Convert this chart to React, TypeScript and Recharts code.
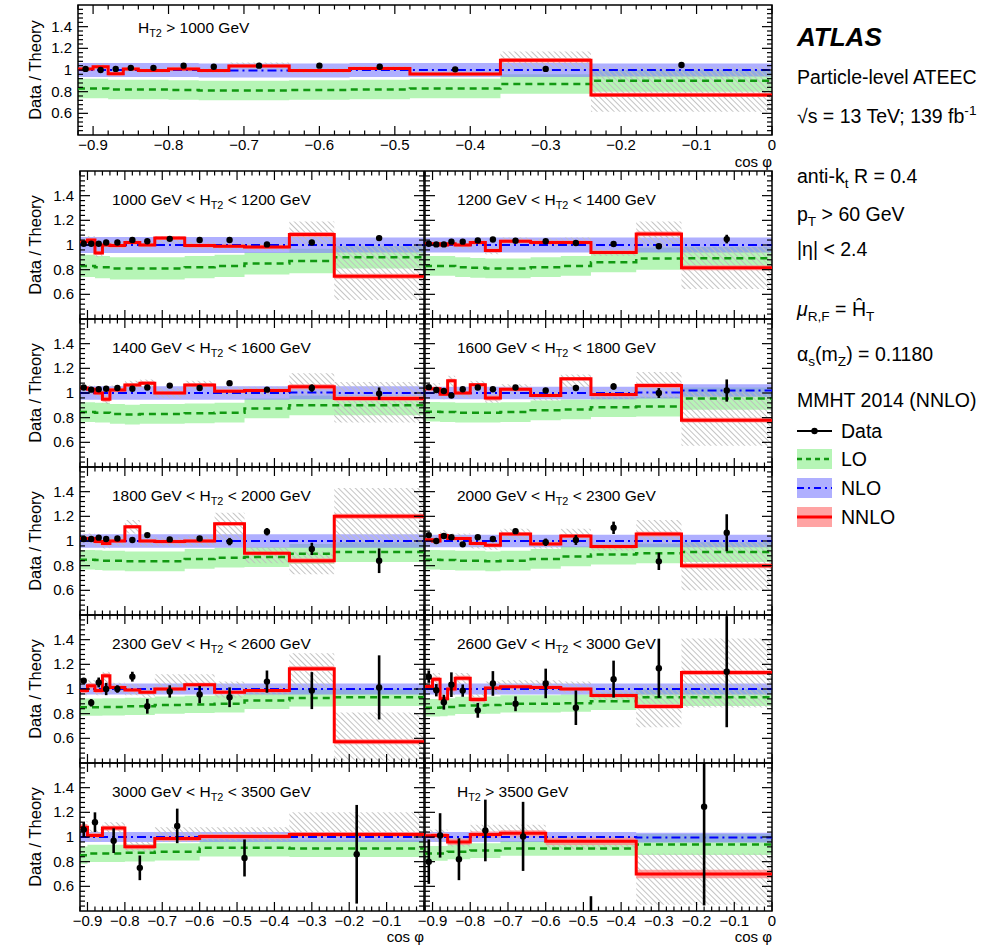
import React from 'react';
import { ComposedChart, Area, Line, Scatter, ErrorBar, XAxis, YAxis, ReferenceArea } from 'recharts';

const FONT = '"Liberation Sans", Arial, Helvetica, sans-serif';

// cos(phi) binning: fine bins for the inclusive and low/medium H_T2 slices, coarse for the two highest
const edgesFine = [-0.92, -0.9, -0.88, -0.86, -0.84, -0.8, -0.76, -0.72, -0.64, -0.56, -0.48, -0.36, -0.24, 0];
const centersFine = [-0.91, -0.89, -0.87, -0.85, -0.82, -0.78, -0.74, -0.68, -0.6, -0.52, -0.42, -0.3, -0.12];
const edgesCoarse = [-0.92, -0.9, -0.86, -0.8, -0.72, -0.6, -0.36, 0];
const centersCoarse = [-0.91, -0.88, -0.83, -0.76, -0.66, -0.48, -0.18];

// H_T2 slices in GeV; panel 0 is the inclusive H_T2 > 1000 GeV ratio, 0 = no upper edge
const htLow = [1000, 1000, 1200, 1400, 1600, 1800, 2000, 2300, 2600, 3000, 3500];
const htHigh = [0, 1200, 1400, 1600, 1800, 2000, 2300, 2600, 3000, 3500, 0];

// axis labels
const xMajorTicks = [-0.9, -0.8, -0.7, -0.6, -0.5, -0.4, -0.3, -0.2, -0.1, 0];
const yMajorTicks = [0.6, 0.8, 1, 1.2, 1.4];

// data / NNLO prediction
const dataRatio = [
  [1.01, 1.0, 1.01, 1.02, 1.02, 1.04, 1.03, 1.04, 1.04, 1.03, 1.006, 1.01, 1.046],
  [1.01, 1.01, 1.01, 1.02, 1.02, 1.04, 1.03, 1.05, 1.04, 1.04, 1.005, 1.02, 1.056],
  [1.01, 1.005, 1.005, 1.027, 1.027, 1.037, 1.045, 1.035, 1.03, 1.016, 1.008, 0.99, 1.048],
  [1.045, 1.027, 1.03, 1.035, 1.04, 1.035, 1.045, 1.06, 1.04, 1.08, 1.027, 1.04, 0.995],
  [1.048, 1.024, 1.016, 0.98, 1.03, 1.045, 1.03, 1.045, 1.02, 1.04, 1.053, 1.0, 1.02],
  [1.016, 1.016, 1.027, 1.016, 1.02, 1.008, 1.048, 1.013, 1.02, 0.995, 1.075, 0.936, 0.84],
  [1.048, 1.0, 1.04, 1.03, 0.973, 1.03, 1.016, 1.08, 0.99, 1.008, 1.107, 0.835, 1.067],
  [1.067, 0.888, 1.053, 1.0, 1.0, 1.1, 0.86, 0.98, 0.955, 0.933, 1.06, 0.987, 1.013],
  [1.1, 0.99, 0.893, 1.035, 0.987, 0.827, 1.045, 0.88, 1.045, 0.848, 1.08, 1.168, 1.14],
  [1.06, 1.12, 0.97, 0.75, 1.09, 0.83, 0.86],
  [0.8, 1.013, 0.82, 1.053, 1.005, 0.25, 1.245],
];
const dataErr = [
  [0.005, 0.005, 0.005, 0.005, 0.005, 0.005, 0.005, 0.005, 0.005, 0.005, 0.006, 0.007, 0.01],
  [0.005, 0.005, 0.005, 0.005, 0.005, 0.005, 0.006, 0.006, 0.006, 0.007, 0.008, 0.012, 0.02],
  [0.005, 0.005, 0.005, 0.005, 0.005, 0.006, 0.006, 0.006, 0.007, 0.008, 0.01, 0.02, 0.035],
  [0.006, 0.006, 0.006, 0.006, 0.006, 0.007, 0.007, 0.008, 0.01, 0.012, 0.015, 0.03, 0.05],
  [0.007, 0.007, 0.007, 0.008, 0.008, 0.01, 0.01, 0.01, 0.012, 0.016, 0.025, 0.04, 0.09],
  [0.008, 0.008, 0.008, 0.01, 0.01, 0.012, 0.015, 0.012, 0.015, 0.03, 0.03, 0.05, 0.1],
  [0.01, 0.01, 0.012, 0.015, 0.012, 0.015, 0.02, 0.02, 0.03, 0.04, 0.05, 0.07, 0.15],
  [0.02, 0.03, 0.04, 0.05, 0.03, 0.04, 0.06, 0.05, 0.07, 0.08, 0.09, 0.15, 0.26],
  [0.05, 0.05, 0.06, 0.1, 0.05, 0.06, 0.1, 0.06, 0.12, 0.14, 0.15, 0.24, 0.45],
  [0.06, 0.08, 0.1, 0.1, 0.14, 0.15, 0.4],
  [0.18, 0.18, 0.17, 0.25, 0.28, 0.27, 0.8],
];

// predictions / NNLO
const nnloRatio = [
  [1.01, 1.03, 0.965, 1.01, 0.995, 1.01, 0.995, 1.037, 0.995, 1.015, 0.963, 1.09, 0.77],
  [1.027, 1.04, 0.936, 1.0, 0.995, 1.02, 1.0, 1.056, 0.995, 0.99, 0.984, 1.085, 0.747],
  [1.01, 1.01, 1.0, 1.01, 1.0, 1.02, 0.955, 1.03, 1.02, 1.02, 0.94, 1.09, 0.816],
  [1.04, 1.03, 1.0, 0.95, 1.025, 1.065, 1.08, 1.0, 1.065, 1.015, 1.02, 1.05, 0.955],
  [1.035, 1.035, 0.99, 1.1, 1.0, 1.067, 0.96, 1.03, 0.98, 1.115, 0.987, 1.06, 0.78],
  [1.02, 1.02, 0.995, 0.98, 1.0, 1.115, 1.0, 0.995, 1.0, 1.14, 0.9, 0.84, 1.2],
  [1.01, 1.0, 1.045, 1.02, 1.02, 0.98, 0.965, 1.056, 0.976, 1.04, 0.955, 1.056, 0.8],
  [0.987, 1.027, 0.987, 1.107, 1.013, 0.992, 0.973, 1.0, 1.035, 0.973, 0.987, 1.165, 0.573],
  [1.02, 1.08, 0.92, 1.0, 1.088, 0.915, 1.008, 1.019, 1.013, 1.0, 0.947, 0.859, 1.133],
  [1.08, 1.013, 1.072, 0.92, 0.987, 1.005, 1.021],
  [1.01, 1.013, 0.96, 1.02, 1.03, 0.965, 0.7],
];
const nnloUnc = [
  [0.015, 0.015, 0.015, 0.015, 0.015, 0.015, 0.015, 0.015, 0.015, 0.015, 0.015, 0.02, 0.02],
  [0.015, 0.015, 0.015, 0.015, 0.015, 0.015, 0.015, 0.015, 0.015, 0.015, 0.015, 0.02, 0.02],
  [0.015, 0.015, 0.015, 0.015, 0.015, 0.015, 0.015, 0.015, 0.015, 0.015, 0.015, 0.02, 0.02],
  [0.015, 0.015, 0.015, 0.02, 0.015, 0.015, 0.015, 0.015, 0.015, 0.015, 0.015, 0.02, 0.02],
  [0.015, 0.015, 0.015, 0.015, 0.015, 0.015, 0.02, 0.015, 0.015, 0.015, 0.015, 0.02, 0.02],
  [0.015, 0.015, 0.015, 0.015, 0.015, 0.015, 0.015, 0.015, 0.015, 0.015, 0.015, 0.02, 0.02],
  [0.015, 0.015, 0.015, 0.015, 0.015, 0.015, 0.015, 0.015, 0.015, 0.015, 0.015, 0.02, 0.02],
  [0.02, 0.02, 0.02, 0.02, 0.015, 0.015, 0.015, 0.015, 0.015, 0.015, 0.015, 0.02, 0.02],
  [0.02, 0.02, 0.02, 0.02, 0.02, 0.02, 0.015, 0.015, 0.015, 0.015, 0.015, 0.02, 0.02],
  [0.025, 0.02, 0.02, 0.02, 0.02, 0.02, 0.02],
  [0.02, 0.02, 0.025, 0.025, 0.025, 0.03, 0.035],
];
const nloRatio = [
  [1.0, 1.0, 1.0, 1.0, 1.0, 1.0, 0.995, 0.995, 0.995, 1.0, 1.0, 1.0, 1.0],
  [1.0, 1.0, 1.0, 1.0, 1.0, 1.0, 1.0, 1.0, 1.0, 1.0, 1.0, 1.0, 1.0],
  [1.0, 1.0, 1.0, 1.0, 1.0, 1.0, 1.0, 1.0, 1.0, 1.0, 1.0, 1.0, 1.0],
  [1.0, 1.0, 1.0, 1.0, 1.0, 1.0, 1.0, 1.0, 1.0, 1.0, 1.0, 1.005, 1.0],
  [1.0, 1.0, 1.0, 1.0, 1.0, 1.0, 1.0, 1.0, 1.0, 1.0, 1.0, 1.005, 1.02],
  [1.0, 1.0, 1.0, 1.0, 1.0, 1.0, 1.0, 1.0, 1.0, 1.0, 1.0, 1.0, 1.0],
  [1.0, 1.0, 1.0, 1.0, 1.0, 1.0, 1.0, 1.0, 1.0, 1.0, 1.0, 1.0, 1.0],
  [1.0, 1.0, 1.0, 1.0, 1.0, 1.0, 1.0, 1.0, 1.0, 1.0, 1.0, 1.0, 1.0],
  [1.0, 1.0, 1.0, 1.0, 1.0, 1.0, 1.0, 1.0, 1.0, 1.0, 1.0, 1.0, 1.0],
  [1.0, 1.0, 1.0, 1.0, 1.0, 1.0, 1.0],
  [1.0, 1.0, 1.0, 1.0, 1.0, 1.0, 0.995],
];
const nloUnc = [
  [0.065, 0.065, 0.065, 0.065, 0.065, 0.065, 0.065, 0.065, 0.065, 0.065, 0.065, 0.065, 0.06],
  [0.065, 0.065, 0.065, 0.065, 0.065, 0.065, 0.065, 0.065, 0.065, 0.065, 0.065, 0.065, 0.06],
  [0.06, 0.06, 0.06, 0.06, 0.06, 0.06, 0.06, 0.06, 0.06, 0.06, 0.06, 0.06, 0.06],
  [0.055, 0.055, 0.055, 0.055, 0.055, 0.055, 0.055, 0.055, 0.055, 0.055, 0.055, 0.055, 0.055],
  [0.05, 0.05, 0.05, 0.05, 0.05, 0.05, 0.05, 0.05, 0.05, 0.05, 0.05, 0.05, 0.05],
  [0.055, 0.055, 0.055, 0.055, 0.055, 0.055, 0.055, 0.055, 0.055, 0.055, 0.055, 0.055, 0.055],
  [0.05, 0.05, 0.05, 0.05, 0.05, 0.05, 0.05, 0.05, 0.05, 0.05, 0.05, 0.05, 0.05],
  [0.045, 0.045, 0.045, 0.045, 0.045, 0.045, 0.045, 0.045, 0.045, 0.045, 0.045, 0.045, 0.045],
  [0.045, 0.045, 0.045, 0.045, 0.045, 0.045, 0.045, 0.045, 0.045, 0.045, 0.045, 0.045, 0.045],
  [0.04, 0.04, 0.04, 0.04, 0.04, 0.04, 0.04],
  [0.04, 0.04, 0.04, 0.04, 0.04, 0.04, 0.04],
];
const loRatio = [
  [0.83, 0.83, 0.82, 0.82, 0.82, 0.815, 0.81, 0.81, 0.815, 0.82, 0.83, 0.87, 0.9],
  [0.83, 0.83, 0.82, 0.82, 0.81, 0.81, 0.81, 0.81, 0.82, 0.83, 0.85, 0.87, 0.9],
  [0.83, 0.83, 0.83, 0.83, 0.82, 0.815, 0.81, 0.81, 0.82, 0.83, 0.86, 0.89, 0.893],
  [0.845, 0.845, 0.84, 0.84, 0.83, 0.825, 0.83, 0.83, 0.835, 0.84, 0.875, 0.9, 0.9],
  [0.848, 0.848, 0.845, 0.845, 0.84, 0.84, 0.84, 0.845, 0.86, 0.867, 0.885, 0.89, 0.955],
  [0.848, 0.848, 0.845, 0.84, 0.84, 0.835, 0.835, 0.835, 0.855, 0.865, 0.87, 0.896, 0.91],
  [0.848, 0.848, 0.845, 0.845, 0.84, 0.84, 0.835, 0.84, 0.855, 0.875, 0.89, 0.9, 0.91],
  [0.853, 0.853, 0.853, 0.855, 0.855, 0.86, 0.86, 0.87, 0.875, 0.88, 0.907, 0.928, 0.933],
  [0.848, 0.848, 0.85, 0.855, 0.867, 0.867, 0.87, 0.88, 0.88, 0.885, 0.9, 0.933, 0.933],
  [0.853, 0.867, 0.867, 0.872, 0.88, 0.912, 0.907],
  [0.867, 0.867, 0.88, 0.89, 0.907, 0.907, 0.94],
];
const loUnc = [
  [0.09, 0.09, 0.09, 0.09, 0.09, 0.09, 0.09, 0.09, 0.09, 0.09, 0.09, 0.09, 0.1],
  [0.09, 0.09, 0.09, 0.09, 0.09, 0.09, 0.09, 0.09, 0.09, 0.09, 0.09, 0.1, 0.09],
  [0.08, 0.08, 0.08, 0.08, 0.08, 0.08, 0.08, 0.08, 0.08, 0.08, 0.08, 0.09, 0.09],
  [0.08, 0.08, 0.08, 0.08, 0.08, 0.08, 0.08, 0.08, 0.08, 0.08, 0.08, 0.08, 0.08],
  [0.08, 0.08, 0.08, 0.08, 0.08, 0.08, 0.08, 0.08, 0.08, 0.08, 0.08, 0.08, 0.09],
  [0.08, 0.08, 0.08, 0.08, 0.08, 0.08, 0.08, 0.08, 0.08, 0.08, 0.08, 0.08, 0.08],
  [0.08, 0.08, 0.08, 0.08, 0.08, 0.08, 0.08, 0.08, 0.08, 0.08, 0.08, 0.08, 0.08],
  [0.07, 0.07, 0.07, 0.07, 0.07, 0.07, 0.07, 0.07, 0.07, 0.07, 0.07, 0.07, 0.07],
  [0.07, 0.07, 0.07, 0.07, 0.07, 0.07, 0.07, 0.07, 0.07, 0.07, 0.07, 0.07, 0.07],
  [0.07, 0.07, 0.07, 0.07, 0.07, 0.07, 0.07],
  [0.06, 0.06, 0.06, 0.06, 0.06, 0.06, 0.085],
];
// hatched band around the NNLO prediction
const hatchLow = [
  [0.985, 1.0, 0.94, 0.985, 0.97, 0.985, 0.97, 1.0, 0.97, 0.99, 0.94, 0.985, 0.615],
  [0.99, 1.0, 0.9, 0.97, 0.965, 0.99, 0.97, 1.0, 0.965, 0.96, 0.955, 0.99, 0.555],
  [0.98, 0.98, 0.97, 0.98, 0.97, 0.99, 0.925, 1.0, 0.99, 0.99, 0.91, 0.98, 0.643],
  [1.0, 0.99, 0.96, 0.91, 0.99, 1.02, 1.04, 0.96, 1.03, 0.98, 0.98, 0.98, 0.76],
  [0.99, 0.99, 0.95, 1.05, 0.96, 1.02, 0.92, 0.99, 0.94, 1.03, 0.95, 0.96, 0.573],
  [0.98, 0.98, 0.96, 0.94, 0.96, 1.06, 0.96, 0.96, 0.96, 1.0, 0.82, 0.73, 0.98],
  [0.97, 0.96, 1.0, 0.98, 0.98, 0.94, 0.93, 1.0, 0.94, 0.98, 0.92, 0.98, 0.6],
  [0.95, 0.99, 0.95, 1.05, 0.97, 0.95, 0.93, 0.97, 0.99, 0.93, 0.95, 1.0, 0.42],
  [0.97, 1.03, 0.87, 0.95, 1.04, 0.87, 0.96, 0.98, 0.98, 0.97, 0.91, 0.69, 0.85],
  [1.03, 0.97, 1.03, 0.88, 0.96, 0.97, 0.98],
  [0.96, 0.96, 0.92, 0.98, 0.98, 0.9, 0.45],
];
const hatchHigh = [
  [1.035, 1.06, 0.99, 1.035, 1.02, 1.035, 1.02, 1.07, 1.02, 1.04, 0.99, 1.17, 1.03],
  [1.06, 1.07, 0.97, 1.03, 1.025, 1.05, 1.03, 1.07, 1.025, 1.02, 1.015, 1.19, 1.0],
  [1.04, 1.04, 1.03, 1.04, 1.03, 1.05, 0.985, 1.06, 1.05, 1.06, 0.97, 1.19, 0.99],
  [1.07, 1.06, 1.03, 0.98, 1.06, 1.1, 1.11, 1.04, 1.1, 1.05, 1.05, 1.16, 1.09],
  [1.08, 1.08, 1.03, 1.14, 1.04, 1.1, 1.0, 1.07, 1.02, 1.15, 1.03, 1.17, 1.01],
  [1.06, 1.06, 1.03, 1.02, 1.04, 1.17, 1.04, 1.03, 1.04, 1.23, 0.95, 0.915, 1.43],
  [1.05, 1.04, 1.09, 1.06, 1.06, 1.02, 1.0, 1.1, 1.01, 1.1, 0.99, 1.17, 0.995],
  [1.03, 1.07, 1.03, 1.14, 1.05, 1.04, 1.02, 1.12, 1.12, 1.06, 1.03, 1.29, 0.81],
  [1.07, 1.13, 0.97, 1.05, 1.13, 0.96, 1.06, 1.07, 1.07, 1.06, 1.02, 1.03, 1.41],
  [1.13, 1.06, 1.12, 0.96, 1.08, 1.08, 1.2],
  [1.06, 1.06, 1.0, 1.1, 1.1, 1.0, 0.867],
];

const LO_FILL = '#b6f5b6';
const NLO_FILL = '#7a7aff';
const NNLO_FILL = '#ff8c8c';

// all tick positions: minor every 0.02 in cos(phi), every 0.04 in ratio
const xTicks = Array.from({ length: 47 }, (_, k) => (k - 46) / 50);
const yTicks = Array.from({ length: 29 }, (_, k) => (k + 11) / 25);
const isMajorX = (v: number) => xMajorTicks.some((t) => Math.abs(t - v) < 1e-6);
const isMajorY = (v: number) => yMajorTicks.some((t) => Math.abs(t - v) < 1e-6);
const fmtX = (v: number) => (Math.abs(v) < 1e-6 ? '0' : '\u2212' + Math.abs(v).toFixed(1));
const fmtY = (v: number) => (Math.abs(v - 1) < 1e-6 ? '1' : v.toFixed(1));

const sub: React.CSSProperties = { fontSize: '0.7em', verticalAlign: '-0.35em' };
const sup: React.CSSProperties = { fontSize: '0.7em', verticalAlign: '0.6em' };

// bottom tick + its mirror on the top edge of the frame
const XTick = (props: any) => {
  const { x, y, payload, plotH, showLabel, showZero } = props;
  const v = payload.value;
  const major = isMajorX(v);
  const len = major ? 9 : 4.5;
  const label = showLabel && major && (showZero || v < -1e-6);
  return (
    <g>
      <line x1={x} x2={x} y1={y} y2={y - len} stroke="#000" strokeWidth={1.2} />
      <line x1={x} x2={x} y1={y - plotH} y2={y - plotH + len} stroke="#000" strokeWidth={1.2} />
      {label && (
        <text x={x} y={y + 15} textAnchor="middle" fontSize={15} fontFamily={FONT} fill="#000">
          {fmtX(v)}
        </text>
      )}
    </g>
  );
};

// left tick + its mirror on the right edge of the frame
const YTick = (props: any) => {
  const { x, y, payload, plotW, showLabel } = props;
  const v = payload.value;
  const major = isMajorY(v);
  const len = major ? 10 : 5;
  return (
    <g>
      <line x1={x} x2={x + len} y1={y} y2={y} stroke="#000" strokeWidth={1.2} />
      <line x1={x + plotW} x2={x + plotW - len} y1={y} y2={y} stroke="#000" strokeWidth={1.2} />
      {showLabel && major && (
        <text x={x - 6} y={y + 5} textAnchor="end" fontSize={15} fontFamily={FONT} fill="#000">
          {fmtY(v)}
        </text>
      )}
    </g>
  );
};

interface PanelProps {
  idx: number;
  x0: number;
  x1: number;
  y0: number;
  y1: number;
  xLabels: boolean;
  zeroLabel: boolean;
  yLabels: boolean;
}

const Panel: React.FC<PanelProps> = ({ idx, x0, x1, y0, y1, xLabels, zeroLabel, yLabels }) => {
  const coarse = dataRatio[idx].length === 7;
  const edges = coarse ? edgesCoarse : edgesFine;
  const centers = coarse ? centersCoarse : centersFine;
  const nb = edges.length - 1;

  // one row per bin edge; the closing edge repeats the last bin for the step shapes
  const rows = edges.map((x, i) => {
    const b = Math.min(i, nb - 1);
    const lo = loRatio[idx][b];
    const nlo = nloRatio[idx][b];
    const nnlo = nnloRatio[idx][b];
    return {
      x,
      lo,
      loBand: [lo - loUnc[idx][b], lo + loUnc[idx][b]],
      nlo,
      nloBand: [nlo - nloUnc[idx][b], nlo + nloUnc[idx][b]],
      nnlo,
      nnloBand: [nnlo - nnloUnc[idx][b], nnlo + nnloUnc[idx][b]],
      hatch: [hatchLow[idx][b], hatchHigh[idx][b]],
    };
  });
  const points = centers.map((x, i) => ({ x, y: dataRatio[idx][i], err: dataErr[idx][i] }));

  const padL = yLabels ? 60 : 8;
  const padR = 8;
  const padT = 8;
  const padB = xLabels ? 26 : 8;
  const plotW = x1 - x0;
  const plotH = y1 - y0;
  const clipId = `ratioClip${idx}`;

  return (
    <div style={{ position: 'absolute', left: x0 - padL, top: y0 - padT }}>
      <svg width={0} height={0} style={{ position: 'absolute' }}>
        <defs>
          <clipPath id={clipId} clipPathUnits="userSpaceOnUse">
            <rect x={padL} y={padT} width={plotW} height={plotH} />
          </clipPath>
        </defs>
      </svg>
      <ComposedChart
        width={plotW + padL + padR}
        height={plotH + padT + padB}
        data={rows}
        margin={{ top: padT, right: padR, bottom: padB - 1, left: padL - 1 }}
      >
        <XAxis
          dataKey="x"
          type="number"
          domain={[-0.92, 0]}
          allowDataOverflow
          ticks={xTicks}
          interval={0}
          height={1}
          tickSize={0}
          tickMargin={0}
          axisLine={false}
          tickLine={false}
          tick={(p: any) => <XTick {...p} plotH={plotH} showLabel={xLabels} showZero={zeroLabel} />}
        />
        <YAxis
          type="number"
          domain={[0.4, 1.6]}
          allowDataOverflow
          ticks={yTicks}
          interval={0}
          width={1}
          tickSize={0}
          tickMargin={0}
          axisLine={false}
          tickLine={false}
          tick={(p: any) => <YTick {...p} plotW={plotW} showLabel={yLabels} />}
        />
        <Area dataKey="loBand" type="stepAfter" fill={LO_FILL} fillOpacity={1} stroke="none" isAnimationActive={false} />
        <Area dataKey="nloBand" type="stepAfter" fill={NLO_FILL} fillOpacity={0.6} stroke="none" isAnimationActive={false} />
        <Area dataKey="hatch" type="stepAfter" fill="url(#ratioHatch)" fillOpacity={1} stroke="none" isAnimationActive={false} />
        <Line dataKey="lo" type="stepAfter" stroke="#119911" strokeWidth={2.5} strokeDasharray="7 5" dot={false} activeDot={false} isAnimationActive={false} />
        <Line dataKey="nlo" type="stepAfter" stroke="#0000ff" strokeWidth={2} strokeDasharray="9 4 2 4" dot={false} activeDot={false} isAnimationActive={false} />
        <Area dataKey="nnloBand" type="stepAfter" fill={NNLO_FILL} fillOpacity={0.8} stroke="none" isAnimationActive={false} />
        <Line dataKey="nnlo" type="stepAfter" stroke="#ff0000" strokeWidth={3} dot={false} activeDot={false} isAnimationActive={false} />
        <Scatter
          data={points}
          dataKey="y"
          isAnimationActive={false}
          shape={(p: any) => <circle cx={p.cx} cy={p.cy} r={3.2} fill="#000" clipPath={`url(#${clipId})`} />}
        >
          <ErrorBar
            dataKey="err"
            direction="y"
            width={0}
            stroke="#000"
            strokeWidth={2.6}
            clipPath={`url(#${clipId})`}
            isAnimationActive={false}
          />
        </Scatter>
        <ReferenceArea x1={-0.92} x2={0} y1={0.4} y2={1.6} fill="none" stroke="#000" strokeWidth={1.5} ifOverflow="visible" />
      </ComposedChart>
    </div>
  );
};

const SliceLabel: React.FC<{ idx: number; left: number; cy: number }> = ({ idx, left, cy }) => {
  const lo = htLow[idx];
  const hi = htHigh[idx];
  return (
    <div style={{ position: 'absolute', left, top: cy - 11, height: 22, lineHeight: '22px', fontSize: 15.5, whiteSpace: 'nowrap' }}>
      {hi ? (
        <>
          {lo} GeV &lt; H<span style={sub}>T2</span> &lt; {hi} GeV
        </>
      ) : (
        <>
          H<span style={sub}>T2</span> &gt; {lo} GeV
        </>
      )}
    </div>
  );
};

const YTitle: React.FC<{ cy: number }> = ({ cy }) => (
  <div
    style={{
      position: 'absolute',
      left: 35 - 75,
      top: cy - 11,
      width: 150,
      height: 22,
      lineHeight: '22px',
      fontSize: 16.5,
      textAlign: 'center',
      transform: 'rotate(-90deg)',
    }}
  >
    Data / Theory
  </div>
);

const CosLabel: React.FC<{ right: number; cy: number }> = ({ right, cy }) => (
  <div style={{ position: 'absolute', left: right - 60, width: 60, top: cy - 8, height: 16, lineHeight: '16px', fontSize: 15, textAlign: 'right' }}>
    cos φ
  </div>
);

const Info: React.FC<{ cy: number; children: React.ReactNode; style?: React.CSSProperties }> = ({ cy, children, style }) => (
  <div style={{ position: 'absolute', left: 797, top: cy - 13, height: 26, lineHeight: '26px', fontSize: 19.5, whiteSpace: 'nowrap', ...style }}>
    {children}
  </div>
);

const legendRows = ['Data', 'LO', 'NLO', 'NNLO'];
const legendY = [431, 459, 488, 517];

const Legend: React.FC = () => (
  <>
    <svg style={{ position: 'absolute', left: 795, top: 415, overflow: 'visible' }} width={40} height={120}>
      <line x1={2} x2={37} y1={16} y2={16} stroke="#000" strokeWidth={2.2} />
      <circle cx={19.5} cy={16} r={3.2} fill="#000" />
      <rect x={2} y={34} width={35} height={20} fill={LO_FILL} />
      <line x1={2} x2={37} y1={44} y2={44} stroke="#119911" strokeWidth={2.5} strokeDasharray="5 4" />
      <rect x={2} y={63} width={35} height={20} fill={NLO_FILL} fillOpacity={0.6} />
      <line x1={2} x2={37} y1={73} y2={73} stroke="#0000ff" strokeWidth={2} strokeDasharray="7 4 2 4" />
      <rect x={2} y={92} width={35} height={20} fill={NNLO_FILL} fillOpacity={0.8} />
      <line x1={2} x2={37} y1={102} y2={102} stroke="#ff0000" strokeWidth={3} />
    </svg>
    {legendRows.map((t, i) => (
      <div key={t} style={{ position: 'absolute', left: 841, top: legendY[i] - 13, lineHeight: '26px', fontSize: 19.5 }}>
        {t}
      </div>
    ))}
  </>
);

const ROW_TOP = 171;
const ROW_H = 148;
const COL_X0 = [80, 425];
const COL_X1 = [424, 772];

export default function App() {
  const grid = [];
  for (let r = 0; r < 5; r++) {
    for (let c = 0; c < 2; c++) {
      const idx = 1 + r * 2 + c;
      const y0 = ROW_TOP + r * ROW_H;
      grid.push(
        <Panel
          key={idx}
          idx={idx}
          x0={COL_X0[c]}
          x1={COL_X1[c]}
          y0={y0}
          y1={y0 + ROW_H}
          xLabels={r === 4}
          zeroLabel={c === 1}
          yLabels={c === 0}
        />
      );
      grid.push(<SliceLabel key={'l' + idx} idx={idx} left={COL_X0[c] + 32} cy={y0 + 29} />);
    }
  }

  return (
    <div
      style={{
        position: 'absolute',
        left: 0,
        top: 0,
        width: 987,
        height: 946,
        background: '#fff',
        fontFamily: FONT,
        color: '#000',
        overflow: 'hidden',
      }}
    >
      <svg width={0} height={0} style={{ position: 'absolute' }}>
        <defs>
          <pattern id="ratioHatch" width={4} height={4} patternUnits="userSpaceOnUse" patternTransform="rotate(-45)">
            <line x1={0} y1={0} x2={0} y2={4} stroke="#bdbdbd" strokeWidth={1.8} />
          </pattern>
        </defs>
      </svg>

      <Panel idx={0} x0={78} x1={772} y0={5} y1={135} xLabels zeroLabel yLabels />
      <SliceLabel idx={0} left={138} cy={28} />
      <CosLabel right={772} cy={162} />
      <YTitle cy={70} />

      {grid}
      {[0, 1, 2, 3, 4].map((r) => (
        <YTitle key={r} cy={ROW_TOP + r * ROW_H + ROW_H / 2} />
      ))}
      <CosLabel right={424} cy={937} />
      <CosLabel right={772} cy={937} />

      <Info cy={37} style={{ fontSize: 26, fontWeight: 'bold', fontStyle: 'italic' }}>
        ATLAS
      </Info>
      <Info cy={77}>Particle-level ATEEC</Info>
      <Info cy={111}>
        √s = 13 TeV; 139 fb<span style={sup}>-1</span>
      </Info>
      <Info cy={176}>
        anti-k<span style={sub}>t</span> R = 0.4
      </Info>
      <Info cy={214}>
        p<span style={sub}>T</span> &gt; 60 GeV
      </Info>
      <Info cy={249}>|η| &lt; 2.4</Info>
      <Info cy={309}>
        <i>μ</i>
        <span style={sub}>R,F</span> = Ĥ<span style={sub}>T</span>
      </Info>
      <Info cy={354}>
        α<span style={sub}>s</span>(m<span style={sub}>Z</span>) = 0.1180
      </Info>
      <Info cy={400}>MMHT 2014 (NNLO)</Info>
      <Legend />
    </div>
  );
}
